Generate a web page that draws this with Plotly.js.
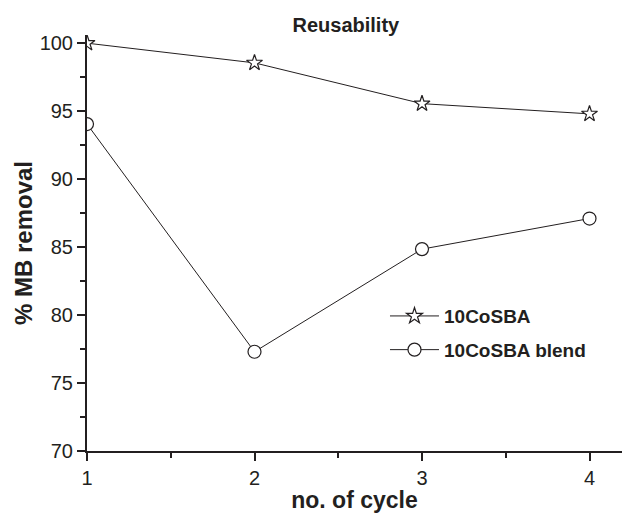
<!DOCTYPE html>
<html>
<head>
<meta charset="utf-8">
<script src="https://cdn.plot.ly/plotly-3.0.1.min.js"></script>
<style>html,body{margin:0;padding:0;background:#fff;}#chart{width:622px;height:513px;}</style>
</head>
<body>
<div id="chart"></div>
<script>
const cycles = [1, 2, 3, 4];
const coSBA = [100, 98.55, 95.55, 94.8];
const coSBABlend = [94.05, 77.3, 84.85, 87.1];
const seriesNames = ["10CoSBA", "10CoSBA blend"];
const xTickVals = [1, 2, 3, 4];
const yTickVals = [70, 75, 80, 85, 90, 95, 100];

const font = "Liberation Sans, Arial, Helvetica, sans-serif";
const ink = "#231f20";

const traces = [
  {
    x: cycles, y: coSBA, name: seriesNames[0], legendgroup: "a", type: "scatter", mode: "lines+markers",
    line: {color: ink, width: 1},
    marker: {symbol: "star", size: 12, color: "#fff", line: {color: ink, width: 1.2}}
  },
  {
    x: cycles, y: coSBABlend, name: seriesNames[1], legendgroup: "b", type: "scatter", mode: "lines+markers",
    line: {color: ink, width: 1},
    marker: {symbol: "circle", size: 13, color: "#fff", line: {color: ink, width: 1.2}}
  }
];

const layout = {
  width: 622, height: 513,
  margin: {l: 87, r: 0, t: 35, b: 62},
  paper_bgcolor: "#fff", plot_bgcolor: "#fff",
  font: {family: font, color: ink, size: 18},
  title: {text: "<b>Reusability</b>", font: {family: font, size: 20, color: ink}, x: 0.556, xanchor: "center", y: 0.951, yanchor: "middle"},
  showlegend: true,
  legend: {x: 0.557, xanchor: "left", y: 0.37, yanchor: "top", bgcolor: "rgba(0,0,0,0)",
    traceorder: "grouped", tracegroupgap: 6,
    font: {family: font, size: 19, color: ink, weight: "bold"}, itemwidth: 49},
  xaxis: {
    range: [1, 4.194], showgrid: false, zeroline: false,
    showline: true, linecolor: ink, linewidth: 2,
    tickmode: "array", tickvals: xTickVals, ticks: "outside", ticklen: 8, tickwidth: 2, tickcolor: ink,
    tickfont: {family: font, size: 20, color: ink},
    minor: {dtick: 0.5, tick0: 1, ticks: "outside", ticklen: 5, tickwidth: 2, tickcolor: ink},
    title: {text: "<b>no. of cycle</b>", font: {family: font, size: 23, color: ink}, standoff: 20}
  },
  yaxis: {
    range: [70, 100.6], showgrid: false, zeroline: false,
    showline: true, linecolor: ink, linewidth: 2,
    tickmode: "array", tickvals: yTickVals, ticks: "outside", ticklen: 8, tickwidth: 2, tickcolor: ink,
    tickfont: {family: font, size: 20, color: ink},
    minor: {dtick: 2.5, tick0: 70, ticks: "outside", ticklen: 5, tickwidth: 2, tickcolor: ink},
    title: {text: "<b>% MB removal</b>", font: {family: font, size: 24, color: ink}, standoff: 0}
  }
};

Plotly.newPlot("chart", traces, layout, {displayModeBar: false, staticPlot: true});
</script>
</body>
</html>
